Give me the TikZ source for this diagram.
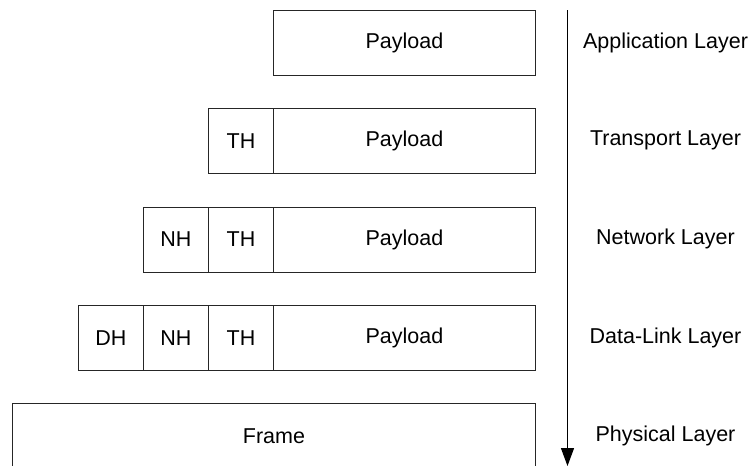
\documentclass[tikz,border=0pt]{standalone}
\usepackage{fontspec}
\setmainfont{Liberation Sans}
\usetikzlibrary{arrows.meta}
\begin{document}
\begin{tikzpicture}[x=1pt,y=-1pt,
  cell/.style={draw=black!85, line width=1pt, minimum height=65pt, inner sep=0pt,
    anchor=north west, font=\fontsize{21.5}{24}\selectfont},
  hdr/.style={cell, minimum width=65pt},
  pay/.style={cell, minimum width=262pt},
  lay/.style={font=\fontsize{21.5}{24}\selectfont, inner sep=0pt}]
\clip (0,0) rectangle (750,466);
% row 1
\node[pay] (p1) at (273,10) {Payload};
% row 2
\node[hdr] (th2) at (208,108) {TH};
\node[pay] (p2) at (273,108) {Payload};
% row 3
\node[hdr] (nh3) at (143,206.5) {NH};
\node[hdr] (th3) at (208,206.5) {TH};
\node[pay] (p3) at (273,206.5) {Payload};
% row 4
\node[hdr] (dh4) at (78,305) {DH};
\node[hdr] (nh4) at (143,305) {NH};
\node[hdr] (th4) at (208,305) {TH};
\node[pay] (p4) at (273,305) {Payload};
% row 5
\node[cell, minimum width=523pt] (fr) at (12,403) {Frame};
% arrow
\coordinate (atop) at (567.5,10);
\coordinate (abot) at (567.5,466);
\draw[line width=1.3pt, -{Triangle[length=18pt,width=13pt]}] (atop) -- (abot);
% labels
\node[lay] (l1) at (665.5,42.5) {Application Layer};
\node[lay] (l2) at (665.5,140.5) {Transport Layer};
\node[lay] (l3) at (665.5,239) {Network Layer};
\node[lay] (l4) at (665.5,337.5) {Data-Link Layer};
\node[lay] (l5) at (665.5,435.5) {Physical Layer};
\end{tikzpicture}
\end{document}
